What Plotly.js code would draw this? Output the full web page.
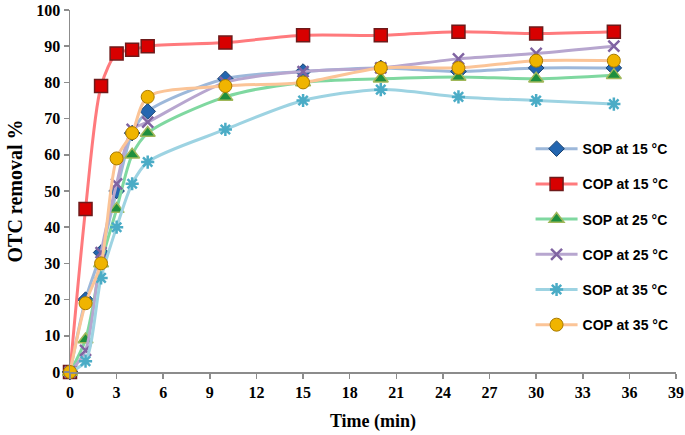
<!DOCTYPE html>
<html>
<head>
<meta charset="utf-8">
<script src="https://cdn.plot.ly/plotly-3.0.1.min.js"></script>
<style>html,body{margin:0;padding:0;background:#fff;}#chart{width:685px;height:435px;}</style>
</head>
<body>
<div id="chart"></div>
<script>
const time = [0, 1, 2, 3, 4, 5, 10, 15, 20, 25, 30, 35];
const sop15 = [0, 20, 33, 50, 66, 72, 81, 83, 84, 83, 84, 84];
const cop15 = [0, 45, 79, 88, 89, 90, 91, 93, 93, 94, 93.5, 94];
const sop25 = [0, 9, 30, 45, 60, 66, 76, 80, 81, 81.5, 81, 82];
const cop25 = [0, 6, 33, 52, 67, 69, 80, 83, 84, 86.5, 88, 90];
const sop35 = [0, 3, 26, 40, 52, 58, 67, 75, 78, 76, 75, 74];
const cop35 = [0, 19, 30, 59, 66, 76, 79, 80, 84, 84, 86, 86];
const names = ["SOP at 15 °C", "COP at 15 °C", "SOP at 25 °C", "COP at 25 °C", "SOP at 35 °C", "COP at 35 °C"];
const xTicks = [0, 3, 6, 9, 12, 15, 18, 21, 24, 27, 30, 33, 36, 39];
const yTicks = [0, 10, 20, 30, 40, 50, 60, 70, 80, 90, 100];

const series = [sop15, cop15, sop25, cop25, sop35, cop35];
const lineColors = ["#9db8da", "#ff7a7d", "#7fd8a0", "#b7a6cf", "#9dd3e2", "#fbc497"];
const markers = [
  {symbol: "diamond", size: 12, color: "#2466b0", line: {color: "#17406e", width: 1}},
  {symbol: "square", size: 13, color: "#d80000", line: {color: "#6e1a1a", width: 1.5}},
  {symbol: "triangle-up", size: 13, color: "#1e8f3e", line: {color: "#a0b85a", width: 1.5}},
  {symbol: "x-thin", size: 11, color: "#8064a2", line: {color: "#8064a2", width: 2.5}},
  {symbol: "asterisk", size: 11, color: "#4bacc6", line: {color: "#4bacc6", width: 2.5}},
  {symbol: "circle", size: 13, color: "#f0b400", line: {color: "#a87a00", width: 1}}
];

const traces = series.map((s, i) => ({
  x: time, y: s, name: "<b>" + names[i] + "</b>", type: "scatter", mode: "lines+markers",
  legendgroup: "g" + i,
  cliponaxis: false,
  line: {color: lineColors[i], width: 3, shape: "spline", smoothing: 0.8},
  marker: markers[i]
}));

const serif = "Liberation Serif, Times New Roman, serif";
const layout = {
  width: 685, height: 435,
  margin: {l: 70, r: 9, t: 10, b: 63},
  paper_bgcolor: "#fff", plot_bgcolor: "#fff",
  showlegend: true,
  legend: {
    x: 0.76, y: 0.66, xanchor: "left", yanchor: "top",
    font: {family: "Liberation Sans, Arial", size: 14, color: "#000"},
    itemwidth: 42,
    tracegroupgap: 14, bgcolor: "rgba(0,0,0,0)"
  },
  xaxis: {
    range: [0, 39], tickvals: xTicks, ticktext: xTicks.map(v => "<b>" + v + "</b>"),
    showgrid: false, zeroline: false, showline: true, linecolor: "#8c8c8c", linewidth: 1.5,
    ticks: "outside", ticklen: 5, tickcolor: "#8c8c8c", tickwidth: 1.5,
    tickfont: {family: serif, size: 16, color: "#000"},
    title: {text: "<b>Time (min)</b>", font: {family: serif, size: 18, color: "#000"}, standoff: 14}
  },
  yaxis: {
    range: [0, 100], tickvals: yTicks, ticktext: yTicks.map(v => "<b>" + v + "</b>"),
    showgrid: false, zeroline: false, showline: true, linecolor: "#8c8c8c", linewidth: 1.5,
    ticks: "outside", ticklen: 5, tickcolor: "#8c8c8c", tickwidth: 1.5,
    tickfont: {family: serif, size: 16, color: "#000"},
    title: {text: "<b>OTC removal %</b>", font: {family: serif, size: 20, color: "#000"}, standoff: 8}
  }
};

Plotly.newPlot("chart", traces, layout, {displayModeBar: false, staticPlot: true});
</script>
</body>
</html>
